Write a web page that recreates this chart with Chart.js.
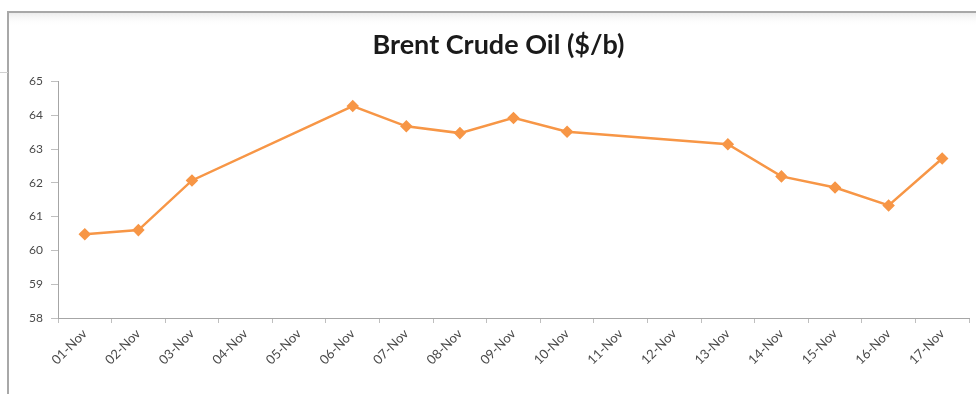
<!DOCTYPE html>
<html>
<head>
<meta charset="utf-8">
<script src="https://cdn.jsdelivr.net/npm/chart.js@4.4.1/dist/chart.umd.min.js"></script>
<style>
  html, body { margin: 0; padding: 0; background: #ffffff; }
  #wrap { width: 976px; height: 394px; position: relative; }
</style>
</head>
<body>
<div id="wrap"><canvas id="c" width="976" height="394"></canvas></div>
<script>
// Daily Brent closing prices, November (weekends left empty)
const days = ['01-Nov','02-Nov','03-Nov','04-Nov','05-Nov','06-Nov','07-Nov','08-Nov','09-Nov',
              '10-Nov','11-Nov','12-Nov','13-Nov','14-Nov','15-Nov','16-Nov','17-Nov'];
const brentPrice = [60.48, 60.60, 62.07, null, null, 64.27, 63.67, 63.47, 63.92,
                    63.51, null, null, 63.14, 62.19, 61.86, 61.33, 62.72];
const yMin = 58;
const yMax = 65;
const chartTitle = 'Brent Crude Oil ($/b)';

// Outer frame of the chart object
const framePlugin = {
  id: 'frame',
  beforeDraw(chart) {
    const ctx = chart.ctx;
    ctx.save();
    ctx.fillStyle = '#ffffff';
    ctx.fillRect(0, 0, chart.width, chart.height);
    // soft band under the top edge
    const g = ctx.createLinearGradient(0, 13, 0, 26);
    g.addColorStop(0, '#ececec');
    g.addColorStop(1, 'rgba(255,255,255,0)');
    ctx.fillStyle = g;
    ctx.fillRect(9, 13, chart.width - 9, 13);
    ctx.strokeStyle = '#a8a8a8';
    ctx.lineWidth = 2;
    ctx.beginPath();
    ctx.moveTo(8, chart.height);
    ctx.lineTo(8, 12);
    ctx.lineTo(chart.width, 12);
    ctx.stroke();
    ctx.strokeStyle = '#d0d0d0';
    ctx.lineWidth = 1;
    ctx.beginPath();
    ctx.moveTo(0, 72.5);
    ctx.lineTo(8, 72.5);
    ctx.stroke();
    ctx.restore();
  }
};

new Chart(document.getElementById('c'), {
  type: 'line',
  data: {
    labels: days,
    datasets: [{
      data: brentPrice,
      borderColor: '#F79646',
      backgroundColor: '#F79646',
      borderWidth: 2.5,
      pointStyle: 'rectRot',
      pointRadius: 4.5,
      pointHoverRadius: 4.5,
      pointBackgroundColor: '#F79646',
      pointBorderColor: '#F79646',
      spanGaps: true,
      tension: 0
    }]
  },
  options: {
    responsive: false,
    animation: false,
    events: [],
    layout: { padding: { left: 24, right: 3, top: 0, bottom: 0 } },
    plugins: {
      legend: { display: false },
      tooltip: { enabled: false },
      title: {
        display: true,
        text: chartTitle,
        color: '#1a1a1a',
        font: { family: 'Lato', size: 27, weight: 'bold', lineHeight: 1.2 },
        padding: { top: 29, bottom: 20 }
      }
    },
    scales: {
      x: {
        offset: true,
        grid: {
          offset: true,
          drawOnChartArea: false,
          drawTicks: true,
          tickLength: 5,
          color: '#bfbfbf'
        },
        border: { color: '#a6a6a6', width: 1 },
        ticks: {
          autoSkip: false,
          minRotation: 45,
          maxRotation: 45,
          color: '#4a4a4a',
          padding: 3,
          font: { family: 'Lato', size: 13 }
        },
        afterFit(scale) { scale.height = 76; }
      },
      y: {
        min: yMin,
        max: yMax,
        grid: {
          drawOnChartArea: false,
          drawTicks: true,
          tickLength: 7,
          color: '#bfbfbf'
        },
        border: { color: '#a6a6a6', width: 1 },
        ticks: {
          stepSize: 1,
          color: '#4a4a4a',
          padding: 8,
          font: { family: 'Lato', size: 12 }
        },
        afterFit(scale) { scale.width = 34; }
      }
    }
  },
  plugins: [framePlugin]
});
</script>
</body>
</html>
